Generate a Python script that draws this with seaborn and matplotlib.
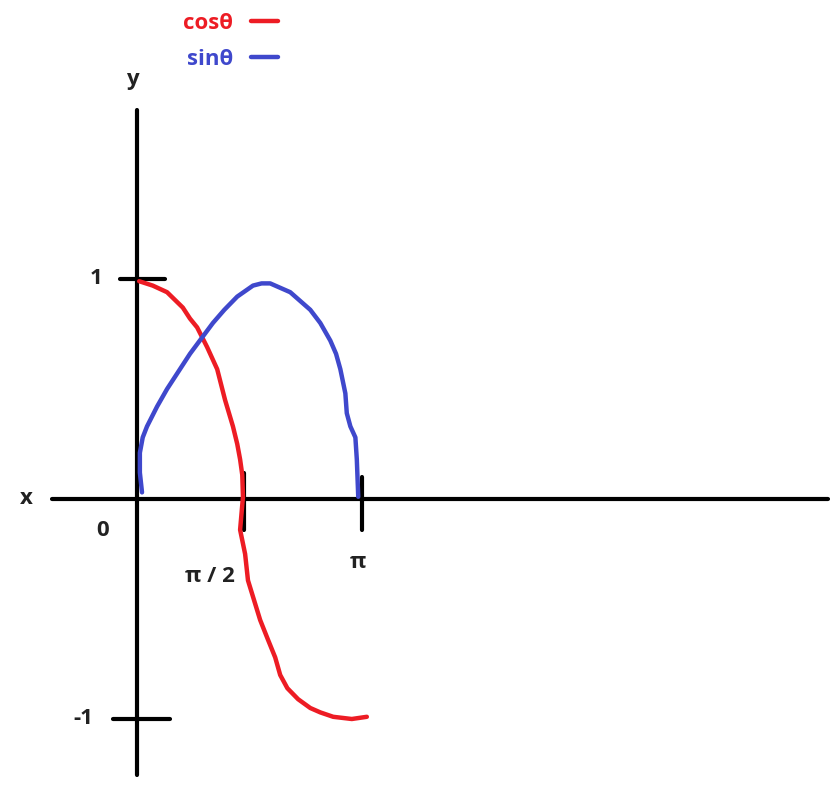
import matplotlib
matplotlib.use("Agg")
import matplotlib.pyplot as plt
import seaborn as sns
import pandas as pd

# ---- data ----
cos_x = [0.03, 0.22, 0.42, 0.64, 0.74, 0.84, 0.98, 1.12, 1.23, 1.34, 1.40, 1.44, 1.47, 1.48, 1.44, 1.51, 1.55, 1.72, 1.83, 1.93, 2.00, 2.10, 2.25, 2.42, 2.56, 2.74, 3.00, 3.21]
cos_y = [0.99, 0.97, 0.94, 0.87, 0.82, 0.78, 0.69, 0.59, 0.45, 0.33, 0.25, 0.18, 0.11, 0.01, -0.14, -0.25, -0.37, -0.55, -0.64, -0.72, -0.80, -0.86, -0.91, -0.95, -0.97, -0.99, -1.00, -0.99]
sin_x = [0.07, 0.04, 0.04, 0.08, 0.14, 0.28, 0.42, 0.58, 0.74, 0.90, 1.06, 1.22, 1.40, 1.62, 1.74, 1.86, 2.00, 2.14, 2.28, 2.42, 2.56, 2.70, 2.78, 2.84, 2.91, 2.93, 2.98, 3.05, 3.07, 3.09]
sin_y = [0.03, 0.12, 0.21, 0.28, 0.33, 0.42, 0.50, 0.58, 0.66, 0.73, 0.80, 0.86, 0.92, 0.97, 0.98, 0.98, 0.96, 0.94, 0.90, 0.86, 0.80, 0.72, 0.66, 0.59, 0.48, 0.39, 0.33, 0.28, 0.18, 0.01]
series_names = ["cosθ", "sinθ"]
x_tick_labels = ["0", "π / 2", "π"]
y_tick_labels = ["1", "-1"]
axis_names = ["x", "y"]

RED = "#ED1C24"
BLUE = "#3F48CC"

df = pd.concat([
    pd.DataFrame({"x": cos_x, "y": cos_y, "s": series_names[0]}),
    pd.DataFrame({"x": sin_x, "y": sin_y, "s": series_names[1]}),
])

sns.set_theme(style="white")
plt.rcParams['font.family'] = ['Open Sans', 'DejaVu Sans']

fig = plt.figure(figsize=(8.37, 7.94), dpi=100)
ax = fig.add_axes([0, 0, 1, 1])
PX = 71.6   # pixels per x unit
PY = 220.0  # pixels per y unit
ax.set_xlim(-137 / PX, (837 - 137) / PX)
ax.set_ylim(-(794 - 499) / PY, 499 / PY)
ax.axis("off")

LW_AX = 3.0
# axes
ax.plot([-85 / PX, 691 / PX], [0, 0], color="black", lw=LW_AX, solid_capstyle="butt")
ax.plot([0, 0], [389 / PY, -276 / PY], color="black", lw=LW_AX, solid_capstyle="butt")
# tick marks
ax.plot([-17 / PX, 28 / PX], [1, 1], color="black", lw=LW_AX)
ax.plot([-24 / PX, 33 / PX], [-1, -1], color="black", lw=LW_AX)
ax.plot([107 / PX, 107 / PX], [26 / PY, -31 / PY], color="black", lw=LW_AX)
ax.plot([225 / PX, 225 / PX], [22 / PY, -31 / PY], color="black", lw=LW_AX)

sns.lineplot(data=df, x="x", y="y", hue="s", sort=False,
             palette={series_names[0]: RED, series_names[1]: BLUE},
             linewidth=3.2, ax=ax, legend=True, estimator=None)
for ln in ax.get_lines():
    ln.set_solid_joinstyle("round")
    ln.set_solid_capstyle("round")

leg = ax.legend(loc="upper left", bbox_to_anchor=(172 / 837, 1 - 2 / 794), frameon=False,
                markerfirst=False, handlelength=1.2, handletextpad=0.8,
                labelspacing=0.65, borderpad=0,
                prop={"weight": "bold", "size": 16}, labelcolor="linecolor")
for h in leg.get_lines():
    h.set_linewidth(3.2)

tk = dict(fontsize=16, fontweight="bold", color="#222222", ha="center", va="center")
ax.text(-111 / PX, 0, axis_names[0], **tk)
ax.text(-5 / PX, 1.905, axis_names[1], **tk)
ax.text(-34 / PX, -32 / PY, x_tick_labels[0], **tk)
ax.text(73 / PX, -78 / PY, x_tick_labels[1], **tk)
ax.text(221 / PX, -63 / PY, x_tick_labels[2], **tk)
ax.text(-41 / PX, 1.0, y_tick_labels[0], **tk)
ax.text(-54 / PX, -1.0, y_tick_labels[1], **tk)

fig.savefig("out.png", dpi=100)
